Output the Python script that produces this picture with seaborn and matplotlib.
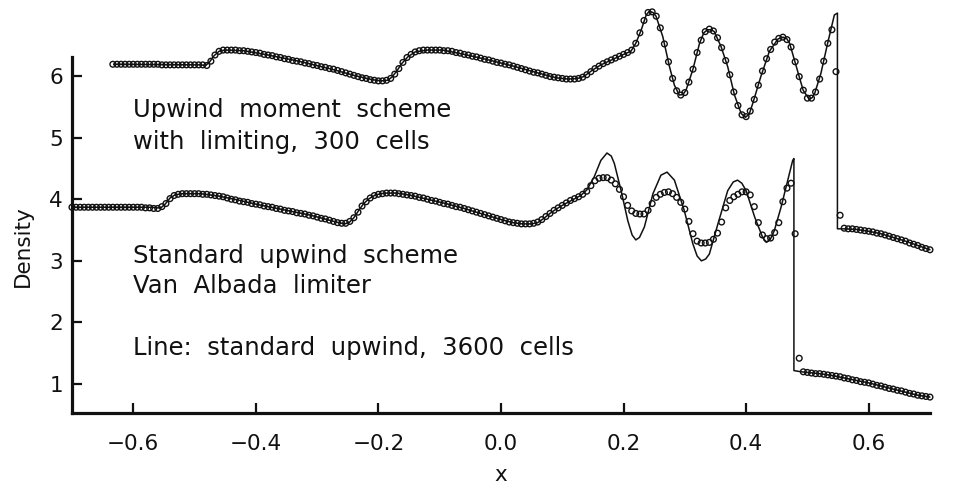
import numpy as np
import matplotlib
matplotlib.use("Agg")
import matplotlib.pyplot as plt
import seaborn as sns

# ---------------- data ----------------
# Lower curve: standard upwind scheme, Van Albada limiter, 300 cells (cell centres)
lower_cell_x = np.linspace(-0.70, 0.70, 211)
lower_cell_rho = [
    3.87, 3.87, 3.87, 3.87, 3.87, 3.87, 3.87, 3.87, 3.87, 3.87,
    3.87, 3.87, 3.87, 3.87, 3.87, 3.87, 3.87, 3.87, 3.86, 3.86,
    3.85, 3.85, 3.88, 3.93, 4.01, 4.06, 4.08, 4.09, 4.09, 4.09,
    4.09, 4.09, 4.08, 4.08, 4.07, 4.06, 4.05, 4.04, 4.02, 4.00,
    3.99, 3.97, 3.96, 3.95, 3.93, 3.92, 3.91, 3.89, 3.88, 3.87,
    3.85, 3.84, 3.82, 3.81, 3.80, 3.78, 3.77, 3.76, 3.74, 3.73,
    3.71, 3.69, 3.68, 3.66, 3.64, 3.62, 3.61, 3.61, 3.64, 3.70,
    3.79, 3.89, 3.96, 4.02, 4.06, 4.08, 4.09, 4.10, 4.10, 4.10,
    4.09, 4.08, 4.07, 4.06, 4.05, 4.03, 4.02, 4.00, 3.98, 3.97,
    3.95, 3.93, 3.92, 3.90, 3.88, 3.87, 3.85, 3.83, 3.81, 3.79,
    3.77, 3.75, 3.73, 3.71, 3.69, 3.67, 3.65, 3.63, 3.62, 3.61,
    3.60, 3.60, 3.60, 3.61, 3.63, 3.67, 3.72, 3.77, 3.82, 3.86,
    3.90, 3.94, 3.98, 4.01, 4.04, 4.08, 4.13, 4.22, 4.30, 4.34,
    4.35, 4.35, 4.31, 4.25, 4.16, 4.04, 3.90, 3.81, 3.77, 3.76,
    3.76, 3.82, 3.93, 4.03, 4.08, 4.11, 4.12, 4.09, 4.03, 3.95,
    3.84, 3.64, 3.44, 3.32, 3.29, 3.29, 3.30, 3.35, 3.45, 3.63,
    3.86, 3.98, 4.04, 4.08, 4.12, 4.12, 4.07, 3.88, 3.62, 3.42,
    3.36, 3.37, 3.46, 3.62, 3.96, 4.18, 4.26, 3.44, 1.42, 1.20,
    1.19, 1.18, 1.17, 1.17, 1.16, 1.15, 1.14, 1.13, 1.12, 1.10,
    1.09, 1.07, 1.06, 1.04, 1.03, 1.02, 1.00, 0.98, 0.97, 0.95,
    0.93, 0.92, 0.90, 0.89, 0.87, 0.85, 0.84, 0.82, 0.81, 0.80, 0.79,
]

# Upper curve: upwind moment scheme with limiting, 300 cells (cell centres)
upper_cell_x = np.linspace(-0.6333, 0.70, 201)
upper_cell_rho = [
    6.19, 6.19, 6.19, 6.19, 6.19, 6.19, 6.19, 6.19, 6.19, 6.19,
    6.19, 6.19, 6.18, 6.18, 6.18, 6.18, 6.18, 6.18, 6.18, 6.18,
    6.18, 6.18, 6.18, 6.17, 6.24, 6.34, 6.40, 6.42, 6.42, 6.42,
    6.42, 6.41, 6.41, 6.40, 6.39, 6.38, 6.37, 6.35, 6.34, 6.33,
    6.31, 6.30, 6.28, 6.27, 6.25, 6.24, 6.23, 6.21, 6.20, 6.18,
    6.17, 6.15, 6.14, 6.12, 6.11, 6.09, 6.07, 6.05, 6.03, 6.01,
    5.99, 5.97, 5.96, 5.94, 5.93, 5.92, 5.92, 5.93, 5.96, 6.03,
    6.12, 6.22, 6.30, 6.35, 6.39, 6.41, 6.42, 6.42, 6.42, 6.42,
    6.42, 6.41, 6.41, 6.40, 6.38, 6.37, 6.35, 6.34, 6.32, 6.31,
    6.29, 6.27, 6.26, 6.24, 6.22, 6.21, 6.19, 6.18, 6.16, 6.14,
    6.12, 6.10, 6.08, 6.06, 6.05, 6.03, 6.01, 5.99, 5.98, 5.97,
    5.96, 5.95, 5.95, 5.95, 5.96, 5.98, 6.02, 6.07, 6.12, 6.16,
    6.20, 6.23, 6.26, 6.29, 6.32, 6.35, 6.38, 6.42, 6.53, 6.70,
    6.90, 7.03, 7.04, 6.97, 6.78, 6.52, 6.23, 5.96, 5.76, 5.69,
    5.73, 5.90, 6.11, 6.38, 6.58, 6.72, 6.76, 6.73, 6.62, 6.46,
    6.25, 6.02, 5.74, 5.52, 5.37, 5.34, 5.43, 5.62, 5.85, 6.08,
    6.28, 6.43, 6.55, 6.61, 6.63, 6.59, 6.47, 6.23, 5.99, 5.77,
    5.64, 5.64, 5.74, 5.95, 6.24, 6.53, 6.75, 6.07, 3.74, 3.53,
    3.52, 3.52, 3.51, 3.50, 3.49, 3.48, 3.47, 3.45, 3.44, 3.42,
    3.40, 3.38, 3.36, 3.34, 3.32, 3.29, 3.27, 3.25, 3.22, 3.20, 3.18,
]

# Reference line: standard upwind, 3600 cells (lower copy)
lower_ref_x = [
    -0.700, -0.570, -0.562, -0.555, -0.548, -0.540, -0.532, -0.520, -0.490,
    -0.460, -0.430, -0.400, -0.370, -0.340, -0.310, -0.280, -0.265, -0.255,
    -0.248, -0.240, -0.232, -0.224, -0.215, -0.205, -0.190, -0.170, -0.150,
    -0.120, -0.090, -0.060, -0.030, 0.000, 0.020, 0.035, 0.050, 0.060, 0.070,
    0.080, 0.090, 0.100, 0.115, 0.130, 0.140, 0.152, 0.163, 0.173, 0.180,
    0.185, 0.196, 0.207, 0.214, 0.220, 0.226, 0.234, 0.248, 0.261, 0.271,
    0.283, 0.299, 0.313, 0.320, 0.327, 0.334, 0.340, 0.354, 0.370, 0.379,
    0.386, 0.393, 0.400, 0.414, 0.427, 0.433, 0.439, 0.446, 0.457, 0.468,
    0.476, 0.478, 0.478, 0.490, 0.500, 0.520, 0.540, 0.560, 0.580, 0.600,
    0.620, 0.640, 0.660, 0.680, 0.700,
]
lower_ref_rho = [
    3.87, 3.87, 3.86, 3.86, 3.92, 4.02, 4.07, 4.09, 4.09,
    4.05, 3.99, 3.92, 3.86, 3.80, 3.74, 3.66, 3.62, 3.60,
    3.62, 3.70, 3.82, 3.93, 4.01, 4.07, 4.10, 4.10, 4.07,
    4.00, 3.93, 3.85, 3.76, 3.67, 3.62, 3.60, 3.60, 3.62, 3.69,
    3.77, 3.84, 3.90, 3.98, 4.06, 4.15, 4.36, 4.63, 4.75, 4.70,
    4.58, 4.14, 3.65, 3.42, 3.34, 3.38, 3.55, 4.09, 4.39, 4.44,
    4.31, 3.82, 3.28, 3.08, 3.00, 3.03, 3.11, 3.60, 4.14, 4.28,
    4.31, 4.26, 4.14, 3.71, 3.38, 3.30, 3.34, 3.49, 3.87, 4.31,
    4.63, 4.66, 1.22, 1.20, 1.19, 1.17, 1.14, 1.10, 1.06, 1.02,
    0.97, 0.92, 0.87, 0.82, 0.79,
]

# Reference line: standard upwind, 3600 cells (upper copy)
upper_ref_x = [
    -0.632, -0.490, -0.482, -0.476, -0.468, -0.460, -0.450, -0.420, -0.380,
    -0.330, -0.280, -0.240, -0.210, -0.195, -0.185, -0.178, -0.170, -0.162,
    -0.152, -0.140, -0.120, -0.095, -0.060, -0.020, 0.020, 0.060, 0.090,
    0.110, 0.125, 0.135, 0.150, 0.163, 0.200, 0.212, 0.220, 0.229, 0.237,
    0.242, 0.248, 0.253, 0.264, 0.275, 0.283, 0.291, 0.297, 0.302, 0.313,
    0.324, 0.331, 0.337, 0.343, 0.348, 0.359, 0.370, 0.381, 0.392, 0.399,
    0.405, 0.411, 0.424, 0.438, 0.452, 0.460, 0.466, 0.471, 0.482, 0.493,
    0.503, 0.508, 0.512, 0.522, 0.533, 0.544, 0.549, 0.549, 0.560, 0.580,
    0.600, 0.620, 0.640, 0.660, 0.680, 0.700,
]
upper_ref_rho = [
    6.19, 6.18, 6.17, 6.22, 6.33, 6.40, 6.42, 6.41, 6.34,
    6.24, 6.12, 6.01, 5.94, 5.92, 5.93, 5.98, 6.08, 6.20,
    6.31, 6.39, 6.42, 6.42, 6.35, 6.26, 6.16, 6.05, 5.97,
    5.95, 5.96, 5.99, 6.10, 6.18, 6.35, 6.40, 6.53, 6.75, 6.99,
    7.05, 7.03, 6.97, 6.64, 6.15, 5.85, 5.69, 5.70, 5.77, 6.10,
    6.53, 6.70, 6.75, 6.75, 6.72, 6.48, 6.15, 5.69, 5.39, 5.33,
    5.38, 5.56, 5.99, 6.40, 6.60, 6.63, 6.61, 6.53, 6.15, 5.77,
    5.62, 5.65, 5.72, 6.04, 6.53, 6.99, 7.02, 3.52, 3.52, 3.51,
    3.48, 3.44, 3.38, 3.32, 3.25, 3.18,
]

x_ticks = [-0.6, -0.4, -0.2, 0.0, 0.2, 0.4, 0.6]
x_tick_labels = ["\u22120.6", "\u22120.4", "\u22120.2", "0.0", "0.2", "0.4", "0.6"]
y_ticks = [1, 2, 3, 4, 5, 6]
y_tick_labels = ["1", "2", "3", "4", "5", "6"]

annotations = [
    ("Upwind  moment  scheme", -0.600, 5.45),
    ("with  limiting,  300  cells", -0.600, 4.93),
    ("Standard  upwind  scheme", -0.600, 3.08),
    ("Van  Albada  limiter", -0.600, 2.60),
    ("Line:  standard  upwind,  3600  cells", -0.600, 1.59),
]

# ---------------- figure ----------------
sns.set_style("white")
plt.rcParams["font.family"] = ["DejaVu Sans"]

fig, ax = plt.subplots(figsize=(9.66, 4.86), dpi=100)
fig.subplots_adjust(left=0.0745, right=0.9627, bottom=0.150, top=0.883)

ink = "#111111"
for rx, ry in [(lower_ref_x, lower_ref_rho), (upper_ref_x, upper_ref_rho)]:
    sns.lineplot(x=rx, y=ry, sort=False, estimator=None, color=ink,
                 linewidth=1.1, ax=ax)
for cx, cy in [(lower_cell_x, lower_cell_rho), (upper_cell_x, upper_cell_rho)]:
    sns.scatterplot(x=cx, y=cy, marker="o", s=17, facecolor="none",
                    edgecolor=ink, linewidth=1.0, ax=ax)

for art in list(ax.lines) + list(ax.collections):
    art.set_clip_on(False)

ax.set_xlim(-0.70, 0.70)
ax.set_ylim(0.53, 6.31)
ax.set_xticks(x_ticks)
ax.set_xticklabels(x_tick_labels)
ax.set_yticks(y_ticks)
ax.set_yticklabels(y_tick_labels)

for side in ["top", "right"]:
    ax.spines[side].set_visible(False)
for side in ["left", "bottom"]:
    ax.spines[side].set_linewidth(2.3)
    ax.spines[side].set_color(ink)

ax.tick_params(axis="both", which="major", bottom=True, left=True,
               top=False, right=False, direction="in", length=7.5,
               width=1.6, colors=ink, labelsize=15.5)
ax.tick_params(axis="x", pad=15)
ax.tick_params(axis="y", pad=6.5)

ax.set_xlabel("x", fontsize=15.5, color=ink)
ax.set_ylabel("Density", fontsize=15.5, color=ink)
ax.xaxis.set_label_coords(0.5, -0.145)
ax.yaxis.set_label_coords(-0.046, 0.47)

for txt, tx, ty in annotations:
    ax.text(tx, ty, txt, fontsize=17.5, color=ink, ha="left", va="center")

fig.savefig("out.png", dpi=100, facecolor="white")
